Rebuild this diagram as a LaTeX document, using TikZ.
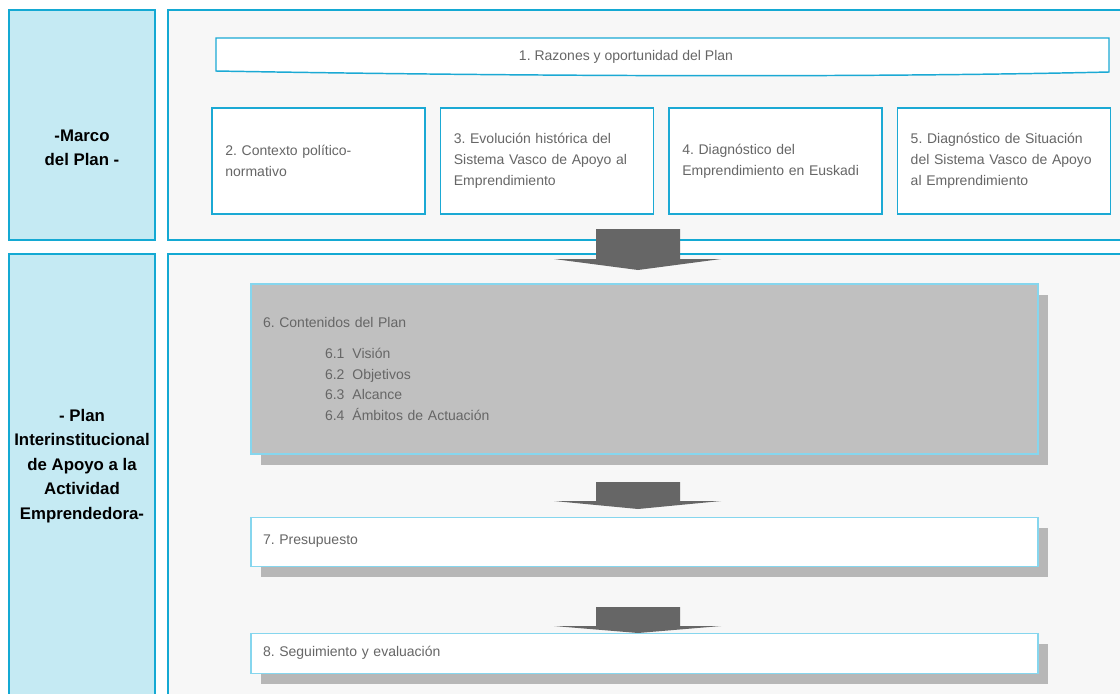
\documentclass[tikz,border=0pt]{standalone}
\usepackage{fontspec}
\setmainfont{Liberation Sans}
\frenchspacing
\usetikzlibrary{positioning, shadows}
\definecolor{PanelBorder}{HTML}{14A9D3}
\definecolor{SideBg}{HTML}{C5EAF3}
\definecolor{PanelBg}{HTML}{F7F7F7}
\definecolor{CardBorder}{HTML}{1BA9D4}
\definecolor{StepBorder}{HTML}{86D6EE}
\definecolor{TextGray}{HTML}{666666}
\definecolor{ContentBg}{HTML}{C0C0C0}
\definecolor{ShadowGray}{HTML}{B7B7B7}
\definecolor{ArrowGray}{HTML}{666666}

\begin{document}
\begin{tikzpicture}[
        x=0.75pt, y=-0.75pt,
        panel/.style={rectangle, draw=PanelBorder, line width=2pt, inner sep=0pt},
        sidepanel/.style={panel, fill=SideBg, minimum width=109.5pt},
        mainpanel/.style={panel, fill=PanelBg, minimum width=721.5pt},
        sidelabel/.style={align=center, font=\fontsize{12.6}{18.4}\selectfont\bfseries, text=black},
        banner/.style={draw=CardBorder, line width=1.1pt, fill=white},
        card/.style={rectangle, draw=CardBorder, line width=1.1pt, fill=white, minimum width=159.75pt, minimum height=79.5pt, inner xsep=10pt, text width=139.75pt, align=left, font=\fontsize{10.5}{15.75}\selectfont, text=TextGray},
        stepcard/.style={rectangle, draw=StepBorder, line width=0.8pt, fill=white, minimum width=590.25pt, inner xsep=9pt, text width=572.25pt, align=left, font=\fontsize{10.5}{15.4}\selectfont, text=TextGray, drop shadow={shadow xshift=7.5pt, shadow yshift=-8pt, fill=ShadowGray, opacity=1}},
        blockarrow/.style={fill=ArrowGray}
      ]
        \clip (0,0) rectangle (1120,693);
        \fill[white] (0,0) rectangle (1120,693);

        \node[sidepanel, minimum height=172.5pt] (marcopanel) at (82,125) {};
        \node[mainpanel, minimum height=172.5pt] (marcomain) at (649,125) {};
        \node[sidepanel, minimum height=349.5pt] (planpanel) at (82,487) {};
        \node[mainpanel, minimum height=349.5pt] (planmain) at (649,487) {};
        \node[sidelabel] (marcolabel) at (82,148) {-Marco\\del Plan -};
        \node[sidelabel] (planlabel) at (82,466) {- Plan\\Interinstitucional\\de Apoyo a la\\Actividad\\Emprendedora-};

        \filldraw[banner] (216,38) -- (1109,38) -- (1109,72) .. controls (850,78) and (500,76) .. (216,71) -- cycle;
        \node[font=\fontsize{10.5}{12}\selectfont, text=TextGray] (razones) at (626,57) {1. Razones y oportunidad del Plan};

        \node[card] (contexto) at (318.5,161) {2. Contexto político-\\normativo};
        \node[card, right=10.5pt of contexto] (evolucion) {3. Evolución histórica del\\Sistema Vasco de Apoyo al\\Emprendimiento};
        \node[card, right=10.5pt of evolucion] (diagnostico) {4. Diagnóstico del\\Emprendimiento en Euskadi};
        \node[card, right=10.5pt of diagnostico] (situacion) {5. Diagnóstico de Situación\\del Sistema Vasco de Apoyo\\al Emprendimiento};

        \node[stepcard, fill=ContentBg, minimum height=127.5pt] (contenidos) at (644.5,369) {6. Contenidos del Plan\\[8pt]
          \hspace*{46.5pt}6.1\hspace{6pt}Visión\\
          \hspace*{46.5pt}6.2\hspace{6pt}Objetivos\\
          \hspace*{46.5pt}6.3\hspace{6pt}Alcance\\
          \hspace*{46.5pt}6.4\hspace{6pt}Ámbitos de Actuación};
        \node[stepcard, minimum height=36.75pt, below=46.5pt of contenidos] (presupuesto) {7. Presupuesto};
        \node[stepcard, minimum height=30pt, below=49.5pt of presupuesto] (seguimiento) {8. Seguimiento y evaluación};

        \fill[blockarrow] (596,229) -- (680,229) -- (680,259) -- (721,259) -- (638,270) -- (554,259) -- (596,259) -- cycle;
        \fill[blockarrow] (596,482) -- (680,482) -- (680,501) -- (721,501) -- (638,509) -- (554,501) -- (596,501) -- cycle;
        \fill[blockarrow] (596,607) -- (680,607) -- (680,626) -- (721,626) -- (638,633) -- (554,626) -- (596,626) -- cycle;
      \end{tikzpicture}
\end{document}
